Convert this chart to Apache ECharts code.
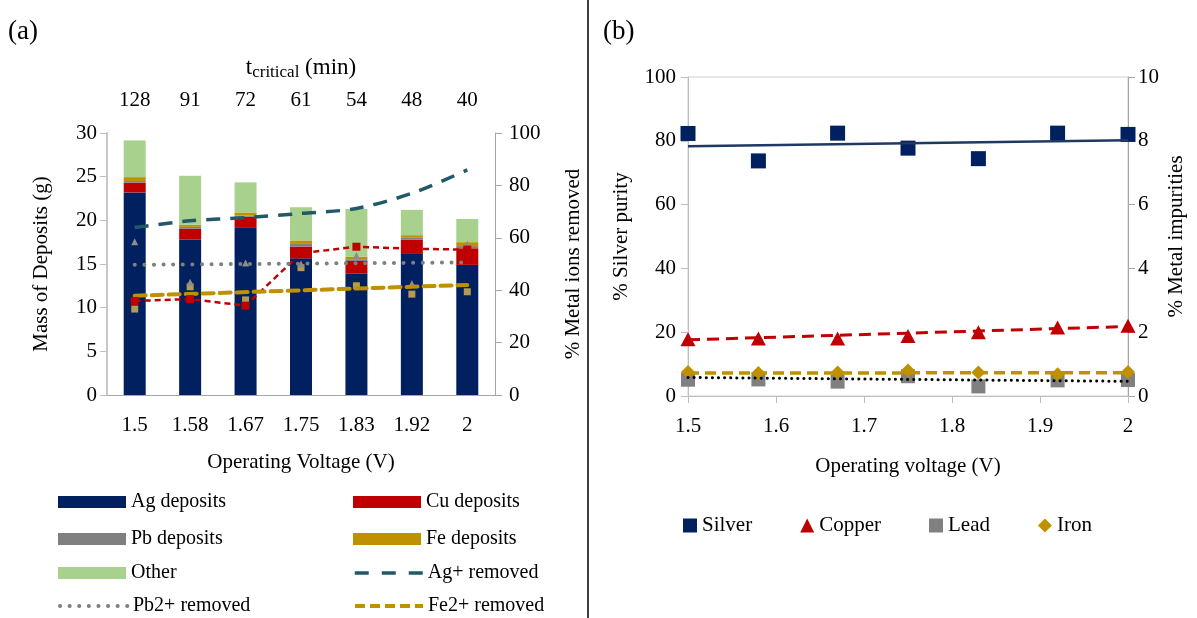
<!DOCTYPE html>
<html><head><meta charset="utf-8">
<script src="https://cdn.jsdelivr.net/npm/echarts@6/dist/echarts.min.js"></script>
<style>html,body{margin:0;padding:0;background:#fff}#c{width:1197px;height:618px}</style>
</head><body><div id="c"></div>
<script>
// ---- Panel (a) data ----
const categories = ['1.5','1.58','1.67','1.75','1.83','1.92','2'];
const tCritical = ['128','91','72','61','54','48','40'];
const agDeposits = [23.2,17.8,19.2,15.65,13.9,16.15,14.9];
const cuDeposits = [1.1,1.25,1.2,1.35,1.45,1.65,1.9];
const pbDeposits = [0.2,0.2,0.15,0.3,0.2,0.2,0.25];
const feDeposits = [0.45,0.25,0.35,0.4,0.3,0.3,0.45];
const otherDeposits = [4.2,5.6,3.45,3.8,5.45,2.9,2.65];
const agRemoved = [63.9,66.5,67.7,69.3,71.2,77,85.9];
const cuRemoved = [35.9,36.6,34.1,54.1,56.6,55.8,55.5];
const pbRemovedPts = [58.5,43,50.4,50,53.2,42.6,57.6];
const feRemovedPts = [32.8,41.3,36.3,48.6,41.7,38.5,39.4];
const pbRemovedTrend = [49.7,null,null,null,null,null,50.6];
const feRemovedTrend = [37.9,null,null,null,null,null,42.0];

// ---- Panel (b) data ----
const voltage = [1.5,1.58,1.67,1.75,1.83,1.92,2];
const silver = [82.3,73.7,82.4,77.7,74.4,82.4,82.0];
const copper = [1.78,1.8,1.8,1.88,2.0,2.15,2.2];
const lead = [0.51,0.52,0.45,0.62,0.30,0.49,0.5];
const iron = [0.75,0.72,0.74,0.8,0.74,0.68,0.75];
const trendX = [1.5,2];
const silverTrend = [78.3,80.2];
const copperTrend = [1.76,2.18];
const leadTrend = [0.58,0.46];
const ironTrend = [0.72,0.73];

const F = 'Liberation Serif';
const txt = {fontFamily:F, fontSize:21, color:'#000'};
const axisGray = '#A6A6A6';
const pair = (xs, ys) => xs.map((x,i)=>[x, ys[i]]);

const C = {ag:'#002060', cu:'#C00000', pb:'#808080', fe:'#BF9000', other:'#A9D18E', agRem:'#215968', pbRem:'#7F7F7F'};
const lsAg = {color:C.agRem, width:3.5, type:[14,10], cap:'butt'};
const lsPb = {color:C.pbRem, width:4, type:[0.1,9.5], cap:'round'};
const lsFe = {color:C.fe, width:4, type:[11,6], cap:'round'};

// legend layout for panel (a)
const legendA = [
  ['Ag deposits',53,487,null],['Cu deposits',348,487,null],
  ['Pb deposits',53,524,null],['Fe deposits',348,524,null],
  ['Other',53,558,null],['Ag+ removed',348,558,{color:C.agRem, width:3.5, type:[14,13], cap:'butt'}],
  ['Pb2+ removed',53,591,{color:C.pbRem, width:4, type:[0.1,9.5], cap:'round'}],['Fe2+ removed',348,591,{color:C.fe, width:4, type:[10,5], cap:'butt'}]
];

const chart = echarts.init(document.getElementById('c'), null, {renderer:'canvas'});
const barW = 22;
const legends = legendA.map(([name,l,t,ls]) => {
  const o = {left:l, top:t, orient:'horizontal', itemWidth:68, itemHeight:12,
    textStyle:{fontFamily:F, fontSize:20, color:'#000'}};
  if (ls) { o.itemStyle = {opacity:0}; o.lineStyle = ls; o.data = [name]; }
  else { o.data = [{name:name, icon:'rect'}]; }
  return o;
});
legends.push({left:678, top:510, orient:'horizontal', itemWidth:14, itemHeight:14, itemGap:48,
  textStyle:{fontFamily:F, fontSize:21, color:'#000'},
  data:[{name:'Silver',icon:'rect'},{name:'Copper',icon:'triangle'},{name:'Lead',icon:'rect'},{name:'Iron',icon:'diamond'}]});

const option = {
  animation:false,
  backgroundColor:'#fff',
  grid:[
    {left:107, top:133, width:388, height:262, show:false},
    {left:688, top:77, width:440, height:319, show:true, borderColor:'#D0D0D0', borderWidth:1}
  ],
  xAxis:[
    {type:'category', gridIndex:0, data:categories, position:'bottom',
     axisLine:{lineStyle:{color:axisGray}}, axisTick:{show:false},
     axisLabel:Object.assign({margin:20}, txt),
     name:'Operating Voltage (V)', nameLocation:'middle', nameGap:57, nameTextStyle:txt},
    {type:'category', gridIndex:0, data:tCritical, position:'top',
     axisLine:{lineStyle:{color:axisGray}}, axisTick:{show:false},
     axisLabel:Object.assign({margin:22}, txt),
     name:'t{sub|critical} (min)', nameLocation:'middle', nameGap:52,
     nameTextStyle:{fontFamily:F, fontSize:23, color:'#000',
       rich:{sub:{fontFamily:F,fontSize:17,color:'#000',padding:[9,0,0,0]}}}},
    {type:'value', gridIndex:1, min:1.5, max:2, interval:0.1,
     axisLine:{show:true, lineStyle:{color:'#BFBFBF'}}, axisTick:{show:true, length:7, lineStyle:{color:'#BFBFBF'}},
     splitLine:{show:false},
     axisLabel:Object.assign({margin:20, formatter:v=>String(Math.round(v*10)/10)}, txt),
     name:'Operating voltage (V)', nameLocation:'middle', nameGap:60, nameTextStyle:txt}
  ],
  yAxis:[
    {type:'value', gridIndex:0, min:0, max:30, interval:5,
     axisLine:{show:true, lineStyle:{color:'#C8C8C8', width:2}}, axisTick:{show:true, length:7, lineStyle:{color:'#BFBFBF'}},
     splitLine:{show:false}, axisLabel:Object.assign({margin:10}, txt),
     name:'Mass of Deposits (g)', nameLocation:'middle', nameGap:55, nameTextStyle:txt},
    {type:'value', gridIndex:0, min:0, max:100, interval:20, position:'right',
     axisLine:{show:true, lineStyle:{color:axisGray}}, axisTick:{show:true, length:7, lineStyle:{color:axisGray}},
     splitLine:{show:false}, axisLabel:Object.assign({margin:14}, txt),
     name:'% Metal ions removed', nameLocation:'middle', nameGap:68, nameRotate:90, nameTextStyle:txt},
    {type:'value', gridIndex:1, min:0, max:100, interval:20,
     axisLine:{show:true, lineStyle:{color:'#BFBFBF'}}, axisTick:{show:true, length:7, lineStyle:{color:'#BFBFBF'}},
     splitLine:{show:false}, axisLabel:Object.assign({margin:12}, txt),
     name:'% Silver purity', nameLocation:'middle', nameGap:56, nameTextStyle:txt},
    {type:'value', gridIndex:1, min:0, max:10, interval:2, position:'right',
     axisLine:{show:true, lineStyle:{color:axisGray}}, axisTick:{show:true, length:7, lineStyle:{color:axisGray}},
     splitLine:{show:false}, axisLabel:Object.assign({margin:10}, txt),
     name:'% Metal impurities', nameLocation:'middle', nameGap:38, nameRotate:90, nameTextStyle:txt}
  ],
  legend:legends,
  series:[
    {name:'Ag deposits', type:'bar', stack:'dep', xAxisIndex:0, yAxisIndex:0, barWidth:barW, data:agDeposits, itemStyle:{color:C.ag}},
    {name:'Cu deposits', type:'bar', stack:'dep', xAxisIndex:0, yAxisIndex:0, barWidth:barW, data:cuDeposits, itemStyle:{color:C.cu}},
    {name:'Pb deposits', type:'bar', stack:'dep', xAxisIndex:0, yAxisIndex:0, barWidth:barW, data:pbDeposits, itemStyle:{color:C.pb}},
    {name:'Fe deposits', type:'bar', stack:'dep', xAxisIndex:0, yAxisIndex:0, barWidth:barW, data:feDeposits, itemStyle:{color:C.fe}},
    {name:'Other', type:'bar', stack:'dep', xAxisIndex:0, yAxisIndex:0, barWidth:barW, data:otherDeposits, itemStyle:{color:C.other}},
    {name:'Fe2+ pts', type:'scatter', xAxisIndex:0, yAxisIndex:1, data:feRemovedPts, symbol:'rect', symbolSize:7, itemStyle:{color:'#B39B50', opacity:1}, z:3},
    {name:'Pb2+ pts', type:'scatter', xAxisIndex:0, yAxisIndex:1, data:pbRemovedPts, symbol:'triangle', symbolSize:7, itemStyle:{color:'#8C8C8C', opacity:1}, z:3},
    {name:'Ag+ removed', type:'line', xAxisIndex:0, yAxisIndex:1, data:agRemoved, symbol:'none', smooth:0.3,
     lineStyle:lsAg, itemStyle:{color:C.agRem}, z:4},
    {name:'Cu2+ removed', type:'line', xAxisIndex:0, yAxisIndex:1, data:cuRemoved, symbol:'rect', symbolSize:8, showSymbol:true,
     lineStyle:{color:C.cu, width:2.5, type:[6,4]}, itemStyle:{color:C.cu}, z:4},
    {name:'Pb2+ removed', type:'line', xAxisIndex:0, yAxisIndex:1, data:pbRemovedTrend, connectNulls:true, symbol:'none',
     lineStyle:lsPb, itemStyle:{color:C.pbRem}, z:4},
    {name:'Fe2+ removed', type:'line', xAxisIndex:0, yAxisIndex:1, data:feRemovedTrend, connectNulls:true, symbol:'none',
     lineStyle:lsFe, itemStyle:{color:C.fe}, z:4},

    {name:'Silver', type:'scatter', xAxisIndex:2, yAxisIndex:2, data:pair(voltage,silver), symbol:'rect', symbolSize:15, itemStyle:{color:C.ag, opacity:1}},
    {name:'Copper', type:'scatter', xAxisIndex:2, yAxisIndex:3, data:pair(voltage,copper), symbol:'triangle', symbolSize:[15,14], itemStyle:{color:C.cu, opacity:1}},
    {name:'Lead', type:'scatter', xAxisIndex:2, yAxisIndex:3, data:pair(voltage,lead), symbol:'rect', symbolSize:14, itemStyle:{color:C.pb, opacity:1}},
    {name:'Iron', type:'scatter', xAxisIndex:2, yAxisIndex:3, data:pair(voltage,iron), symbol:'diamond', symbolSize:14, itemStyle:{color:C.fe, opacity:1}},
    {name:'Silver trend', type:'line', xAxisIndex:2, yAxisIndex:2, data:pair(trendX,silverTrend), symbol:'none',
     lineStyle:{color:'#1F3864', width:2.5}, z:4},
    {name:'Copper trend', type:'line', xAxisIndex:2, yAxisIndex:3, data:pair(trendX,copperTrend), symbol:'none',
     lineStyle:{color:C.cu, width:3, type:[12,7]}, z:4},
    {name:'Lead trend', type:'line', xAxisIndex:2, yAxisIndex:3, data:pair(trendX,leadTrend), symbol:'none',
     lineStyle:{color:'#000', width:3, type:[0.1,6], cap:'round'}, z:4},
    {name:'Iron trend', type:'line', xAxisIndex:2, yAxisIndex:3, data:pair(trendX,ironTrend), symbol:'none',
     lineStyle:{color:C.fe, width:3.5, type:[11,6]}, z:4}
  ],
  graphic:[
    {type:'line', shape:{x1:588, y1:0, x2:588, y2:618}, style:{stroke:'#000', lineWidth:1.5}},
    {type:'text', left:8, top:18, style:{text:'(a)', fontFamily:F, fontSize:27, fill:'#000'}},
    {type:'text', left:603, top:18, style:{text:'(b)', fontFamily:F, fontSize:27, fill:'#000'}}
  ]
};
chart.setOption(option);
</script></body></html>
